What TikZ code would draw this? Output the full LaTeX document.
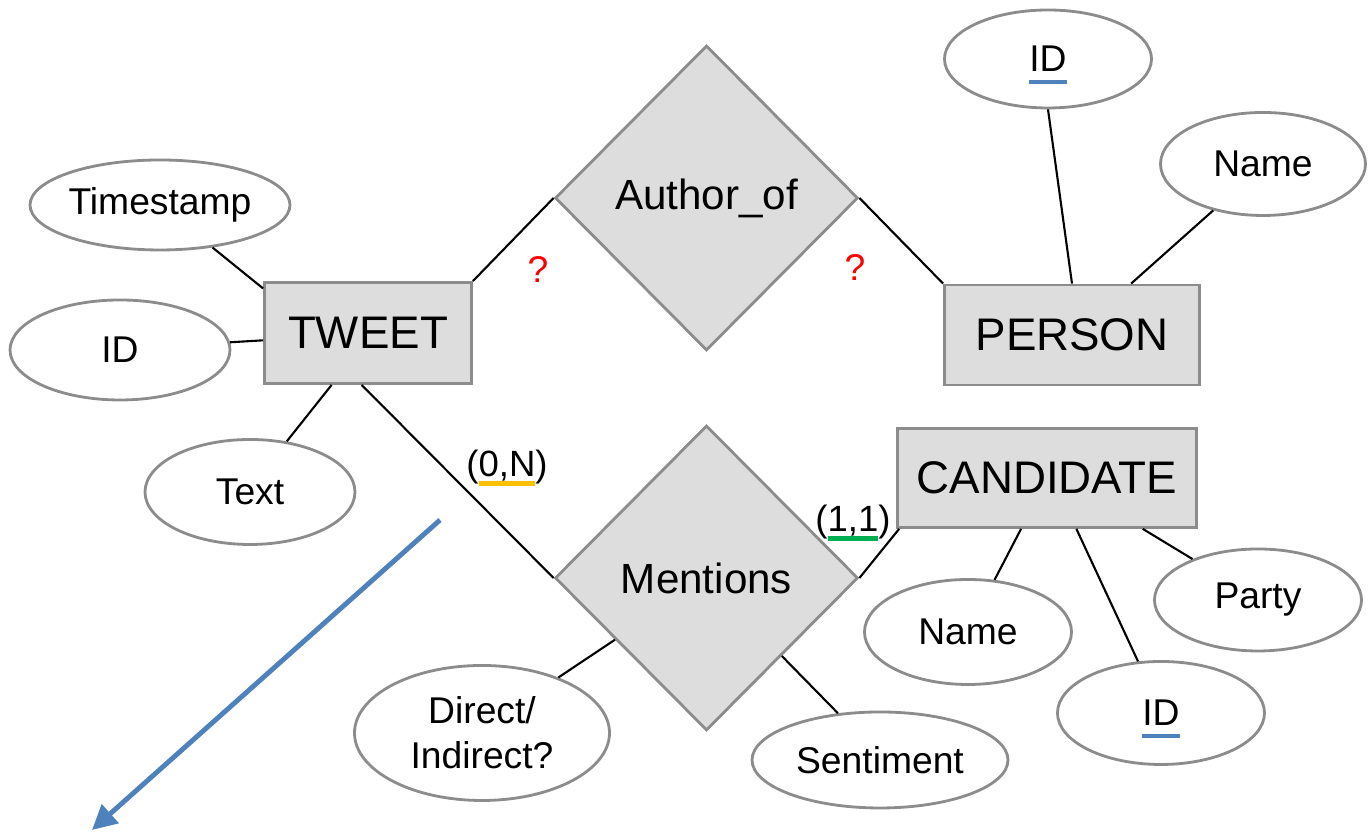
\documentclass[tikz,border=0pt]{standalone}
\usepackage{fontspec}
\setmainfont{Liberation Sans}
\usepackage{tikz}
\usetikzlibrary{arrows.meta,shapes.geometric,positioning}
\usepackage{xcolor}
\definecolor{ergray}{RGB}{140,140,140}
\definecolor{erfill}{RGB}{221,221,221}
\definecolor{erblue}{RGB}{79,129,189}
\definecolor{eryellow}{RGB}{255,192,0}
\definecolor{ergreen}{RGB}{0,176,80}
\tikzstyle{entity} = [draw=ergray,line width=0.8pt,fill=erfill,inner sep=0pt,font=\fontsize{13}{15}\selectfont]
\tikzstyle{relation} = [diamond,draw=ergray,line width=0.8pt,fill=erfill,inner sep=0pt,minimum width=3.03cm,minimum height=3.05cm,font=\fontsize{12}{14}\selectfont]
\tikzstyle{attrib} = [ellipse,draw=ergray,line width=0.8pt,fill=white,inner sep=0pt,align=center,font=\fontsize{10.6}{12.8}\selectfont]
\tikzstyle{link} = [line width=0.6pt,black]
\tikzstyle{card} = [inner sep=0pt,font=\fontsize{10.4}{12}\selectfont]
\tikzstyle{unsure} = [inner sep=0pt,text=red,font=\fontsize{10.6}{12}\selectfont]
\newcommand{\keyline}[3]{\setbox0\hbox{#2}\rlap{\smash{\color{#1}\rule[#3]{\wd0}{1.2pt}}}\box0}

\begin{document}
\begin{tikzpicture}
\useasboundingbox (0,0) rectangle (13.7,8.35);
% Tweet entity
\node[entity, minimum width=2.07cm, minimum height=1.01cm] (tweet) at (3.68,5.02) {TWEET};
\node[attrib, minimum width=2.6cm, minimum height=0.9cm] (tstamp) at (1.6,6.3) {Timestamp};
\node[attrib, minimum width=2.2cm, minimum height=1.0cm] (tid) at (1.2,4.85) {ID};
\node[attrib, minimum width=2.1cm, minimum height=1.05cm] (ttext) at (2.5,3.43) {Text};

% Person entity
\node[entity, minimum width=2.55cm, minimum height=1.0cm] (person) at (10.72,5.0) {PERSON};
\node[attrib, minimum width=2.07cm, minimum height=0.98cm] (pid) at (10.48,7.76) {\keyline{erblue}{ID}{-3.4pt}};
\node[attrib, minimum width=2.05cm, minimum height=1.03cm] (pname) at (12.63,6.71) {Name};

% Candidate entity
\node[entity, minimum width=2.99cm, minimum height=0.99cm] (cand) at (10.47,3.57) {CANDIDATE};
\node[attrib, minimum width=2.07cm, minimum height=1.05cm] (cname) at (9.68,2.03) {Name};
\node[attrib, minimum width=2.07cm, minimum height=1.02cm] (cparty) at (12.58,2.35) {Party};
\node[attrib, minimum width=2.07cm, minimum height=1.03cm] (cid) at (11.61,1.22) {\keyline{erblue}{ID}{-3.4pt}};

% Relationships
\node[relation] (author) at (7.065,6.37) {Author\_of};
\node[relation] (mention) at (7.065,2.57) {Mentions};
\node[attrib, minimum width=2.55cm, minimum height=1.35cm] (direct) at (4.82,1.02) {Direct/\\Indirect?};
\node[attrib, minimum width=2.56cm, minimum height=0.96cm] (sentiment) at (8.8,0.75) {Sentiment};

% Cardinalities
\node[unsure] (q1) at (5.38,5.65) {?};
\node[unsure] (q2) at (8.55,5.67) {?};
\node[card] (c1) at (5.07,3.68) {(\keyline{eryellow}{0,N}{-2.6pt})};
\node[card] (c2) at (8.53,3.13) {(\keyline{ergreen}{1,1}{-2.6pt})};

% Connectors
\draw[link] (tstamp.-39) -- (tweet.157);
\draw[link] (tid.4) -- (tweet.184);
\draw[link] (ttext.54) -- (tweet.-125);
\draw[link] (tweet.north east) -- (author.west);
\draw[link] (author.east) -- (person.north west);
\draw[link] (person.north) -- (pid.south);
\draw[link] (person.41) -- (pname.223);
\draw[link] (tweet.-97) -- (mention.west);
\draw[link] (mention.east) -- (cand.199);
\draw[link] (mention.214) -- (direct.36);
\draw[link] (mention.-46) -- (sentiment.132);
\draw[link] (cand.-117) -- (cname.63);
\draw[link] (cand.-60) -- (cid.114);
\draw[link] (cand.-28) -- (cparty.148);

% Blue arrow
\coordinate (arrowstart) at (4.40,3.15);
\coordinate (arrowend) at (0.92,0.05);
\draw[erblue, line width=1.4pt, -{Triangle[length=7pt,width=7pt]}] (arrowstart) -- (arrowend);
\end{tikzpicture}
\end{document}
